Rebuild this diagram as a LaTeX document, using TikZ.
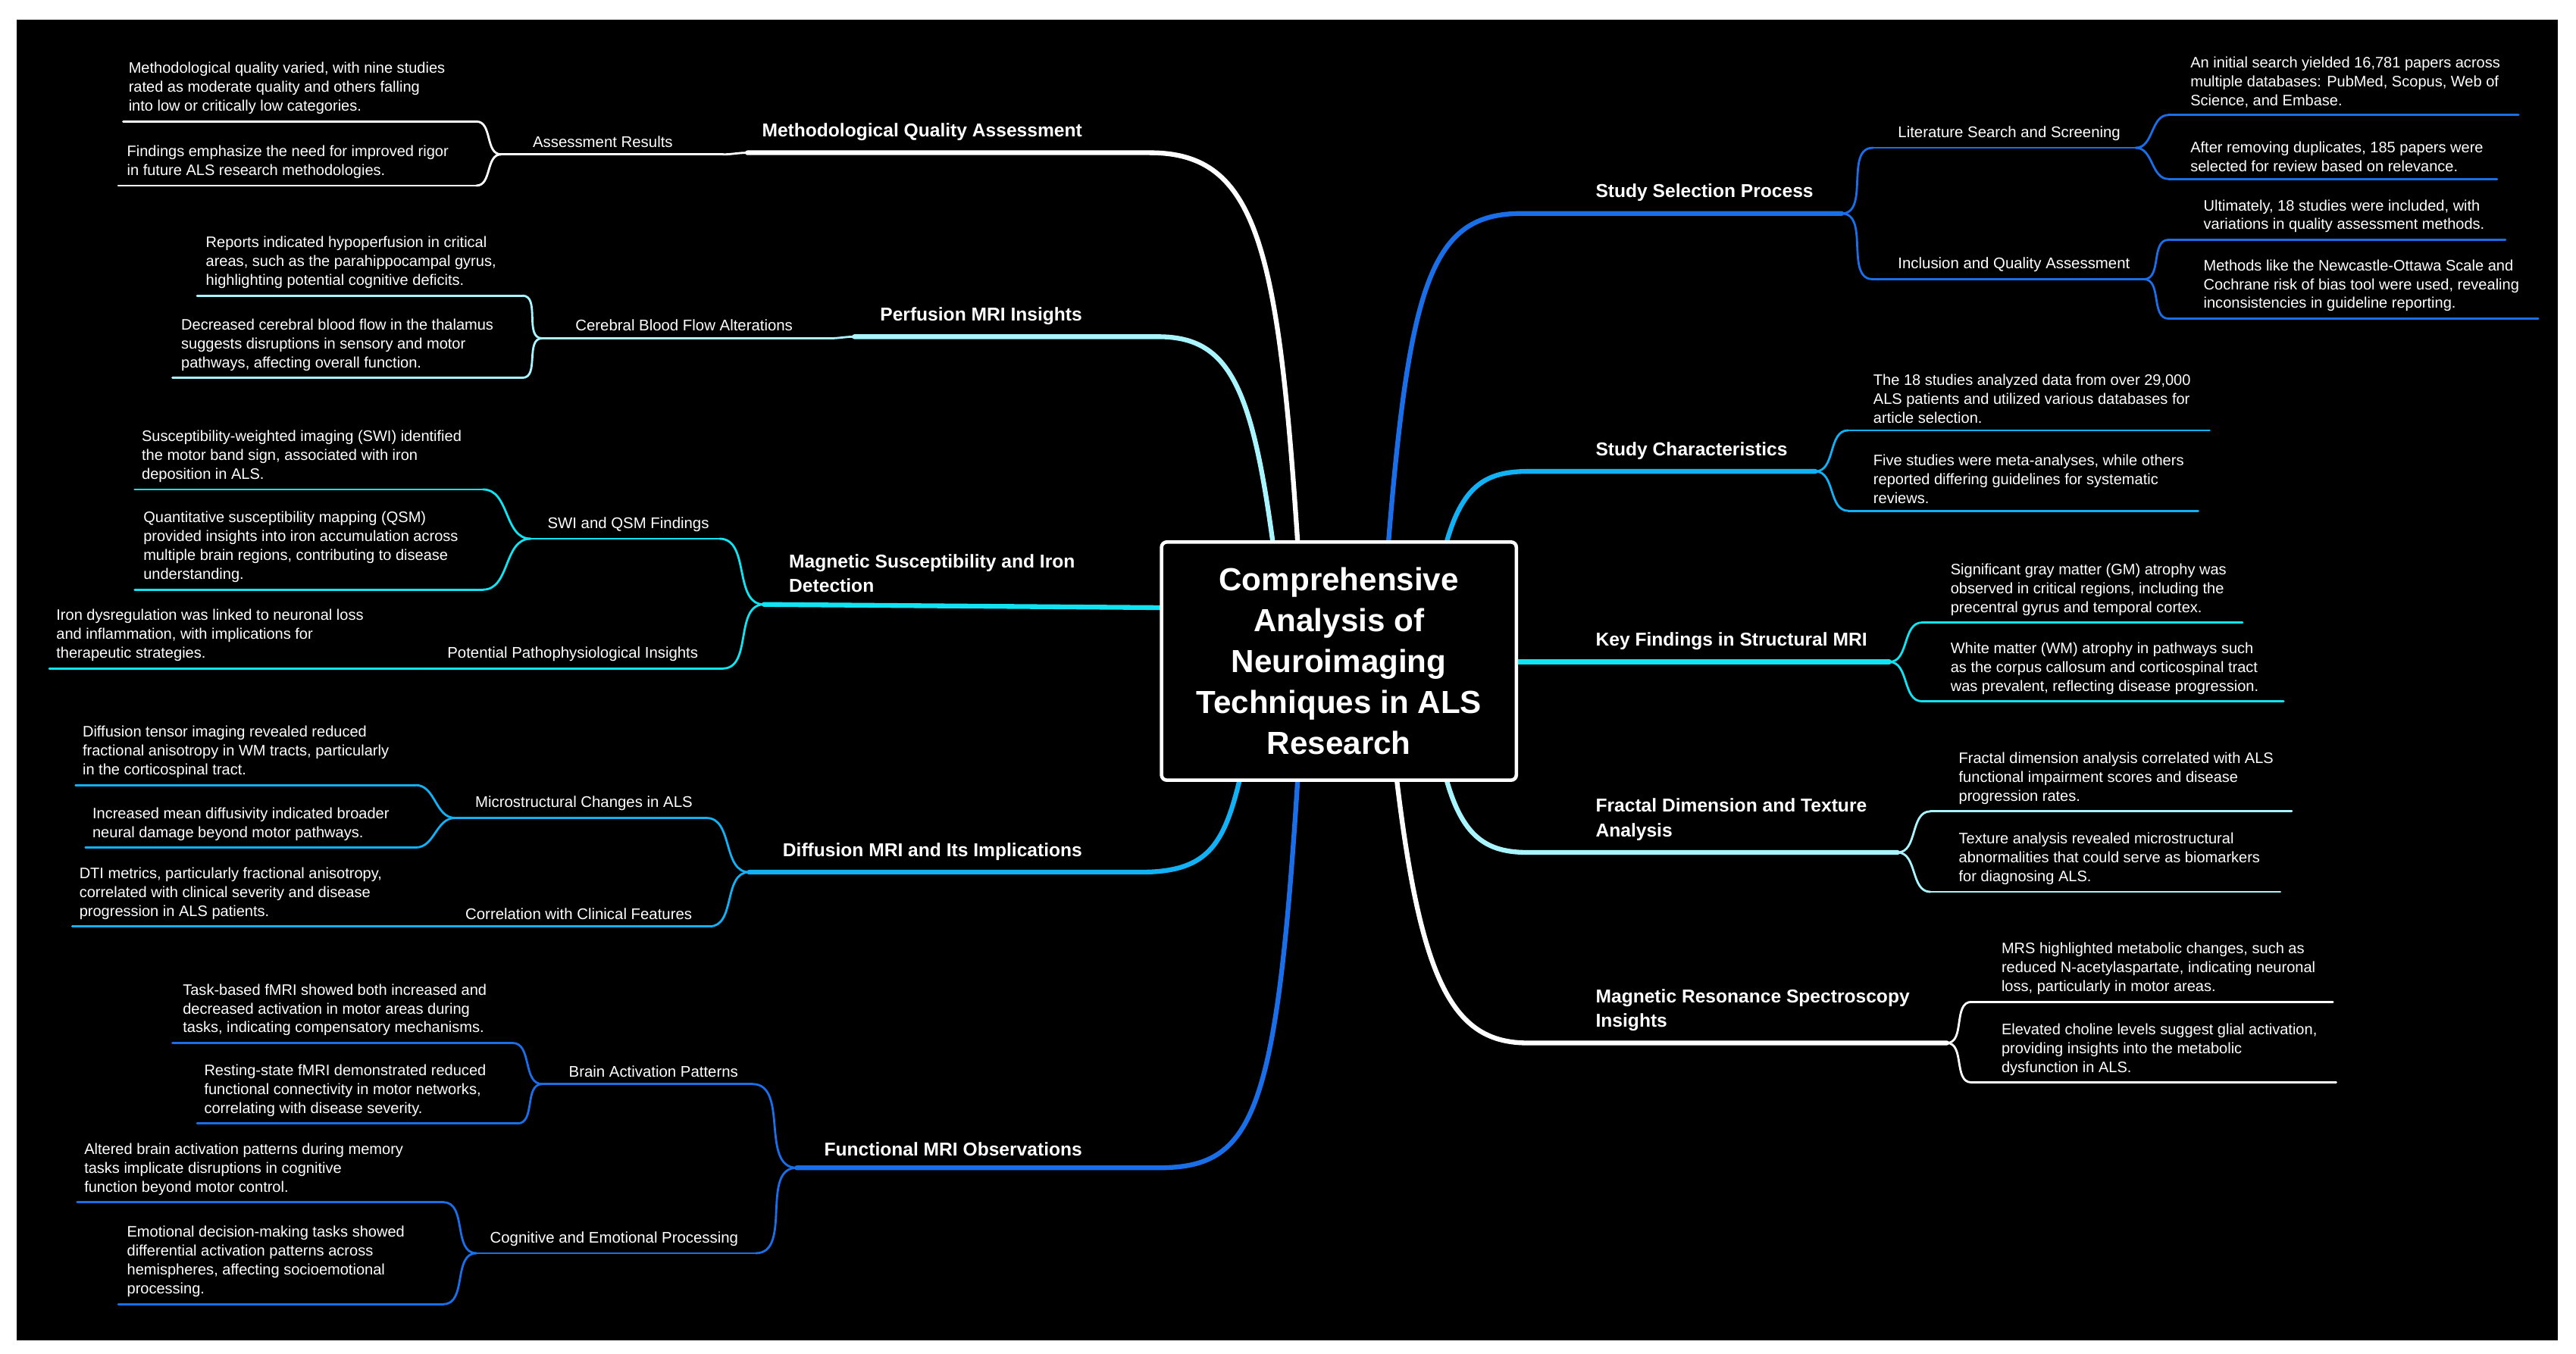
\documentclass[tikz,border=0pt]{standalone}
\usepackage{fontspec}
\setmainfont{Liberation Sans}
\definecolor{c1}{HTML}{1A6EE8}
\definecolor{c2}{HTML}{12B0F5}
\definecolor{c3}{HTML}{10E4F2}
\definecolor{c4}{HTML}{A8F4FF}
\definecolor{cw}{HTML}{FFFFFF}
\tikzset{
  main/.style={line width=1.8pt,line cap=round},
  thinl/.style={line width=0.8pt,line cap=round},
  leaftext/.style={text=white,inner sep=0pt,align=left,font=\fontsize{5.7}{7.1}\selectfont},
  subtext/.style={text=white,inner sep=0pt,align=left,font=\fontsize{5.8}{7.1}\selectfont},
  maintext/.style={text=white,inner sep=0pt,align=left,font=\bfseries\fontsize{7.0}{9.2}\selectfont},
}
\newcommand\leaf[7]{\coordinate (#1-l) at (#3,#5); \coordinate (#1-r) at (#4,#5);
  \draw[#2,thinl] (#1-l) -- (#1-r);
  \node[leaftext,anchor=south west] (#1) at (#6,#5-4) {#7};}
\newcommand\subb[7]{\coordinate (#1-l) at (#3,#5); \coordinate (#1-r) at (#4,#5);
  \draw[#2,thinl] (#1-l) -- (#1-r);
  \node[subtext,anchor=south west] (#1) at (#6,#5-4) {#7};}
\newcommand\rc[3]{\draw[#1,thinl] (#2) to[out=0,in=180] (#3);}
\newcommand\lc[3]{\draw[#1,thinl] (#2) to[out=180,in=0] (#3);}
\begin{document}
\begin{tikzpicture}[x=0.021677cm,y=-0.021677cm]
\useasboundingbox (0,0) rectangle (1568,824.3);
\fill[white] (0,0) rectangle (1568,824.3);
\fill[black] (10,12) rectangle (1557,816);

% main branch coordinates
\coordinate (s1) at (845,332); \coordinate (m1l) at (926,130); \coordinate (m1r) at (1121,130);
\coordinate (s2) at (880,332); \coordinate (m2l) at (930,287); \coordinate (m2r) at (1105,287);
\coordinate (s3) at (920,403); \coordinate (m3r) at (1150,403);
\coordinate (s4) at (880,473); \coordinate (m4l) at (930,519); \coordinate (m4r) at (1155,519);
\coordinate (s5) at (850,473); \coordinate (m5l) at (930,635); \coordinate (m5r) at (1185,635);
\coordinate (s6) at (790,332); \coordinate (m6r) at (700,93); \coordinate (m6l) at (455,93);
\coordinate (s7) at (775,332); \coordinate (m7r) at (705,205); \coordinate (m7l) at (520,205);
\coordinate (s8) at (710,370); \coordinate (m8l) at (465,368);
\coordinate (s9) at (755,473); \coordinate (m9r) at (694,531); \coordinate (m9l) at (456,531);
\coordinate (s10) at (790,473); \coordinate (m10r) at (705,711); \coordinate (m10l) at (485,711);

\draw[c1,main] (s1) .. controls (858,170) and (872,130) .. (m1l) -- (m1r);
\draw[c2,main] (s2) .. controls (890,295) and (905,287) .. (m2l) -- (m2r);
\draw[c3,main] (s3) -- (m3r);
\draw[c4,main] (s4) .. controls (890,510) and (905,519) .. (m4l) -- (m4r);
\draw[cw,main] (s5) .. controls (865,600) and (885,635) .. (m5l) -- (m5r);
\draw[cw,main] (s6) .. controls (778,150) and (765,93) .. (m6r) -- (m6l);
\draw[c4,main] (s7) .. controls (762,235) and (748,205) .. (m7r) -- (m7l);
\draw[c3,main] (s8) -- (m8l);
\draw[c2,main] (s9) .. controls (745,515) and (735,531) .. (m9r) -- (m9l);
\draw[c1,main] (s10) .. controls (777,680) and (763,711) .. (m10r) -- (m10l);

% main labels
\node[maintext,anchor=south west] (t1) at (971,123) {Study Selection Process};
\node[maintext,anchor=south west] (t2) at (971,280) {Study Characteristics};
\node[maintext,anchor=south west] (t3) at (971,396) {Key Findings in Structural MRI};
\node[maintext,anchor=south west] (t4) at (971,512) {Fractal Dimension and Texture\\Analysis};
\node[maintext,anchor=south west] (t5) at (971,628) {Magnetic Resonance Spectroscopy\\Insights};
\node[maintext,anchor=south east] (t6) at (659,86) {Methodological Quality Assessment};
\node[maintext,anchor=south east] (t7) at (659,198) {Perfusion MRI Insights};
\node[maintext,anchor=south west] (t8) at (480,361) {Magnetic Susceptibility and Iron\\Detection};
\node[maintext,anchor=south east] (t9) at (659,524) {Diffusion MRI and Its Implications};
\node[maintext,anchor=south east] (t10) at (659,704) {Functional MRI Observations};

% ---------- right side ----------
\subb{lss}{c1}{1140}{1300}{90}{1155}{Literature Search and Screening}
\subb{iqa}{c1}{1140}{1305}{170}{1155}{Inclusion and Quality Assessment}
\rc{c1}{m1r}{lss-l} \rc{c1}{m1r}{iqa-l}
\leaf{r1a}{c1}{1320}{1533}{70}{1333}{An initial search yielded 16,781 papers across\\multiple databases: PubMed, Scopus, Web of\\Science, and Embase.}
\leaf{r1b}{c1}{1320}{1520}{109}{1333}{After removing duplicates, 185 papers were\\selected for review based on relevance.}
\leaf{r1c}{c1}{1320}{1525}{146}{1341}{Ultimately, 18 studies were included, with\\variations in quality assessment methods.}
\leaf{r1d}{c1}{1320}{1545}{194}{1341}{Methods like the Newcastle-Ottawa Scale and\\Cochrane risk of bias tool were used, revealing\\inconsistencies in guideline reporting.}
\rc{c1}{lss-r}{r1a-l} \rc{c1}{lss-r}{r1b-l} \rc{c1}{iqa-r}{r1c-l} \rc{c1}{iqa-r}{r1d-l}

\leaf{r2a}{c2}{1125}{1345}{262}{1140}{The 18 studies analyzed data from over 29,000\\ALS patients and utilized various databases for\\article selection.}
\leaf{r2b}{c2}{1125}{1338}{311}{1140}{Five studies were meta-analyses, while others\\reported differing guidelines for systematic\\reviews.}
\rc{c2}{m2r}{r2a-l} \rc{c2}{m2r}{r2b-l}

\leaf{r3a}{c3}{1170}{1365}{379}{1187}{Significant gray matter (GM) atrophy was\\observed in critical regions, including the\\precentral gyrus and temporal cortex.}
\leaf{r3b}{c3}{1170}{1390}{427}{1187}{White matter (WM) atrophy in pathways such\\as the corpus callosum and corticospinal tract\\was prevalent, reflecting disease progression.}
\rc{c3}{m3r}{r3a-l} \rc{c3}{m3r}{r3b-l}

\leaf{r4a}{c4}{1175}{1395}{494}{1192}{Fractal dimension analysis correlated with ALS\\functional impairment scores and disease\\progression rates.}
\leaf{r4b}{c4}{1175}{1388}{543}{1192}{Texture analysis revealed microstructural\\abnormalities that could serve as biomarkers\\for diagnosing ALS.}
\rc{c4}{m4r}{r4a-l} \rc{c4}{m4r}{r4b-l}

\leaf{r5a}{cw}{1200}{1420}{610}{1218}{MRS highlighted metabolic changes, such as\\reduced N-acetylaspartate, indicating neuronal\\loss, particularly in motor areas.}
\leaf{r5b}{cw}{1200}{1422}{659}{1218}{Elevated choline levels suggest glial activation,\\providing insights into the metabolic\\dysfunction in ALS.}
\rc{cw}{m5r}{r5a-l} \rc{cw}{m5r}{r5b-l}

% ---------- left side ----------
\subb{ar}{cw}{305}{440}{94}{324}{Assessment Results}
\lc{cw}{m6l}{ar-r}
\leaf{l1a}{cw}{75}{290}{74}{78}{Methodological quality varied, with nine studies\\rated as moderate quality and others falling\\into low or critically low categories.}
\leaf{l1b}{cw}{72}{290}{113}{77}{Findings emphasize the need for improved rigor\\in future ALS research methodologies.}
\lc{cw}{ar-l}{l1a-r} \lc{cw}{ar-l}{l1b-r}

\subb{cbf}{c4}{330}{505}{206}{350}{Cerebral Blood Flow Alterations}
\lc{c4}{m7l}{cbf-r}
\leaf{l2a}{c4}{120}{318}{180}{125}{Reports indicated hypoperfusion in critical\\areas, such as the parahippocampal gyrus,\\highlighting potential cognitive deficits.}
\leaf{l2b}{c4}{105}{318}{230}{110}{Decreased cerebral blood flow in the thalamus\\suggests disruptions in sensory and motor\\pathways, affecting overall function.}
\lc{c4}{cbf-l}{l2a-r} \lc{c4}{cbf-l}{l2b-r}

\subb{swi}{c3}{323}{438}{328}{333}{SWI and QSM Findings}
\subb{ppi}{c3}{255}{440}{407}{272}{Potential Pathophysiological Insights}
\lc{c3}{m8l}{swi-r} \lc{c3}{m8l}{ppi-r}
\leaf{l3a}{c3}{82}{294}{298}{86}{Susceptibility-weighted imaging (SWI) identified\\the motor band sign, associated with iron\\deposition in ALS.}
\leaf{l3b}{c3}{82}{294}{359}{87}{Quantitative susceptibility mapping (QSM)\\provided insights into iron accumulation across\\multiple brain regions, contributing to disease\\understanding.}
\leaf{l3c}{c3}{30}{255}{407}{34}{Iron dysregulation was linked to neuronal loss\\and inflammation, with implications for\\therapeutic strategies.}
\lc{c3}{swi-l}{l3a-r} \lc{c3}{swi-l}{l3b-r} \lc{c3}{ppi-l}{l3c-r}

\subb{mca}{c2}{277}{430}{498}{289}{Microstructural Changes in ALS}
\subb{ccf}{c2}{270}{432}{564}{283}{Correlation with Clinical Features}
\lc{c2}{m9l}{mca-r} \lc{c2}{m9l}{ccf-r}
\leaf{l4a}{c2}{46}{253}{478}{50}{Diffusion tensor imaging revealed reduced\\fractional anisotropy in WM tracts, particularly\\in the corticospinal tract.}
\leaf{l4b}{c2}{52}{253}{516}{56}{Increased mean diffusivity indicated broader\\neural damage beyond motor pathways.}
\leaf{l4c}{c2}{44}{270}{564}{48}{DTI metrics, particularly fractional anisotropy,\\correlated with clinical severity and disease\\progression in ALS patients.}
\lc{c2}{mca-l}{l4a-r} \lc{c2}{mca-l}{l4b-r} \lc{c2}{ccf-l}{l4c-r}

\subb{bap}{c1}{330}{458}{660}{346}{Brain Activation Patterns}
\subb{cep}{c1}{290}{460}{763}{298}{Cognitive and Emotional Processing}
\lc{c1}{m10l}{bap-r} \lc{c1}{m10l}{cep-r}
\leaf{l5a}{c1}{105}{312}{635}{111}{Task-based fMRI showed both increased and\\decreased activation in motor areas during\\tasks, indicating compensatory mechanisms.}
\leaf{l5b}{c1}{120}{315}{684}{124}{Resting-state fMRI demonstrated reduced\\functional connectivity in motor networks,\\correlating with disease severity.}
\leaf{l5c}{c1}{47}{270}{732}{51}{Altered brain activation patterns during memory\\tasks implicate disruptions in cognitive\\function beyond motor control.}
\leaf{l5d}{c1}{72}{270}{794}{77}{Emotional decision-making tasks showed\\differential activation patterns across\\hemispheres, affecting socioemotional\\processing.}
\lc{c1}{bap-l}{l5a-r} \lc{c1}{bap-l}{l5b-r} \lc{c1}{cep-l}{l5c-r} \lc{c1}{cep-l}{l5d-r}

% center
\node[draw=white,fill=black,line width=1.3pt,rounded corners=2pt,minimum width=216*0.021677cm,minimum height=145*0.021677cm,text=white,align=center,font=\bfseries\fontsize{12}{15.4}\selectfont,inner sep=2pt] (center) at (815,402.5) {Comprehensive\\Analysis of\\Neuroimaging\\Techniques in ALS\\Research};
\end{tikzpicture}
\end{document}
